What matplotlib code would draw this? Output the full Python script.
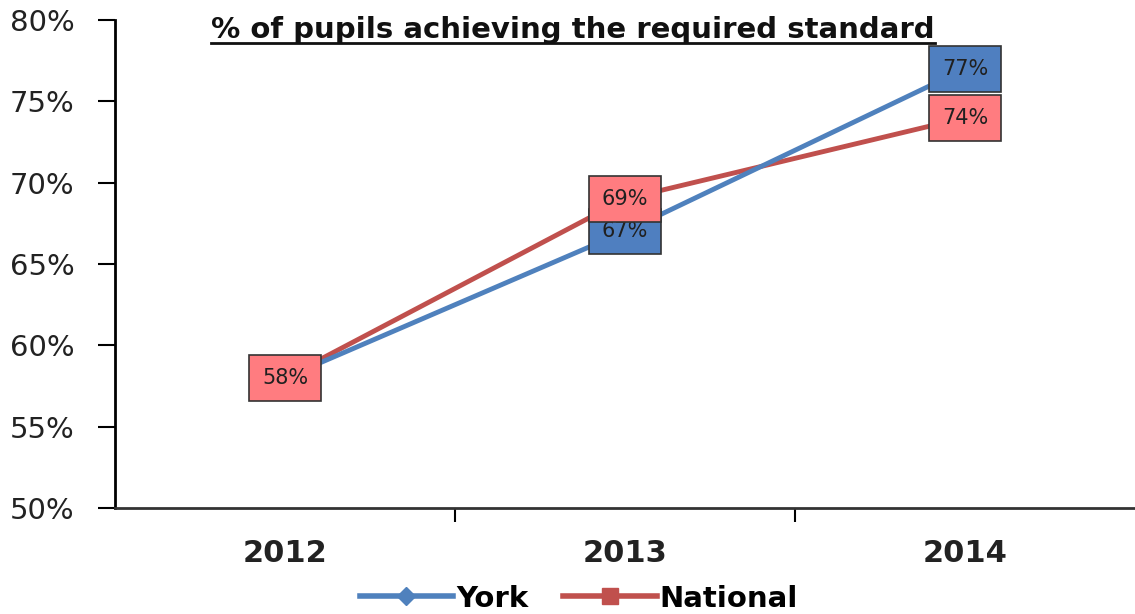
import matplotlib
matplotlib.use("Agg")
import matplotlib.pyplot as plt
from matplotlib.lines import Line2D

years = ["2012", "2013", "2014"]
york = [58, 67, 77]
national = [58, 69, 74]
yticks = [50, 55, 60, 65, 70, 75, 80]
title = "% of pupils achieving the required standard"

york_line = "#4F81BD"
nat_line = "#C0504D"
york_box = "#4F7FC0"
nat_box = "#FF7C80"

fig = plt.figure(figsize=(11.35, 6.14), dpi=100)
ax = fig.add_axes([0.1013, 0.1726, 0.905, 0.7948])

x = list(range(len(years)))
ax.plot(x, national, color=nat_line, lw=3.5, zorder=2)
ax.plot(x, york, color=york_line, lw=3.5, zorder=2)

def label(xi, yi, txt, fc):
    ax.text(xi, yi, txt, ha="center", va="center", fontsize=15, color="#202020",
            bbox=dict(boxstyle="square,pad=0.62", fc=fc, ec="#333333", lw=1.2), zorder=5)

label(x[0], national[0], f"{national[0]}%", nat_box)
label(x[1], york[1], f"{york[1]}%", york_box)
label(x[1], national[1], f"{national[1]}%", nat_box)
label(x[2], york[2], f"{york[2]}%", york_box)
label(x[2], national[2], f"{national[2]}%", nat_box)

ax.set_xlim(-0.5, 2.52)
ax.set_ylim(50, 80)
ax.set_yticks(yticks)
ax.set_yticklabels([f"{v}%" for v in yticks], fontsize=21, color="#222222")
ax.set_xticks(x)
ax.set_xticklabels(years, fontsize=22, fontweight="bold", color="#222222")
ax.set_xticks([0.5, 1.5], minor=True)
ax.tick_params(axis="x", which="major", length=0, pad=22)
ax.tick_params(axis="x", which="minor", length=10, width=1.5, direction="out")
ax.tick_params(axis="y", which="major", length=12, width=1.5, direction="out", pad=17)
ax.spines["top"].set_visible(False)
ax.spines["right"].set_visible(False)
ax.spines["left"].set_linewidth(2)
ax.spines["bottom"].set_linewidth(2)
ax.spines["bottom"].set_color("#333333")

fig.text(0.505, 0.951, title, ha="center", va="center", fontsize=21,
         fontweight="bold", color="#111111")
tt = fig.texts[-1]
fig.canvas.draw()
bb = tt.get_window_extent()
fig.add_artist(Line2D([bb.x0 / fig.bbox.width, bb.x1 / fig.bbox.width],
                      [(bb.y0 + 1) / fig.bbox.height] * 2, color="#111111", lw=2))

handles = [Line2D([], [], color=york_line, lw=4, marker="D", ms=9, mfc=york_line, mec=york_line),
           Line2D([], [], color=nat_line, lw=4, marker="s", ms=12, mfc="#C0504D", mec="#C0504D")]
leg = fig.legend(handles, ["York", "National"], loc="center", bbox_to_anchor=(0.51, 0.025),
                 ncol=2, frameon=False, prop=dict(size=21, weight="bold"),
                 handlelength=3.2, columnspacing=1.2, handletextpad=0.1)

fig.savefig("out.png", dpi=100)
